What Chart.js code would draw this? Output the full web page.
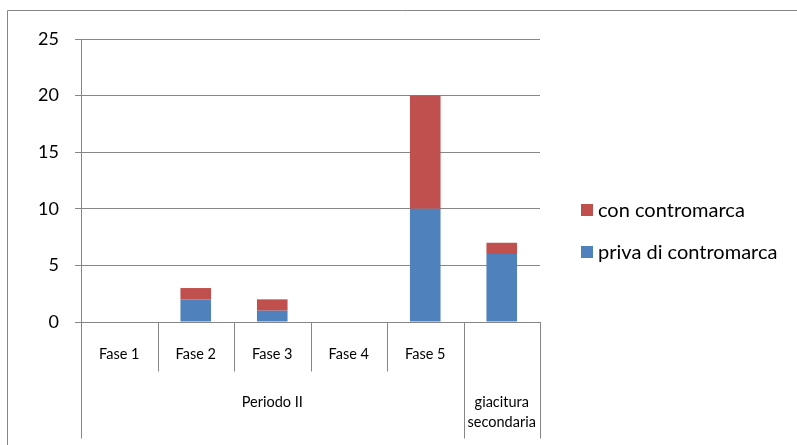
<!DOCTYPE html>
<html>
<head>
<meta charset="utf-8">
<script src="https://cdn.jsdelivr.net/npm/chart.js@4.4.1/dist/chart.umd.min.js"></script>
<style>
  html, body { margin: 0; padding: 0; background: #fff; }
  #wrap { width: 797px; height: 445px; }
</style>
</head>
<body>
<div id="wrap"><canvas id="chart" width="797" height="445"></canvas></div>
<script>
// Categories: phases (first label row) and the period each belongs to (second row)
const phaseLabels  = ['Fase 1', 'Fase 2', 'Fase 3', 'Fase 4', 'Fase 5', ''];
const periodLabels = ['Periodo II', 'Periodo II', 'Periodo II', 'Periodo II', 'Periodo II', 'giacitura secondaria'];

// Series values
const privaValues = [0, 2, 1, 0, 10, 6];
const conValues   = [0, 1, 1, 0, 10, 1];

// Value axis ticks
const yTicks = [0, 5, 10, 15, 20, 25];

const FONT = 'Lato, "Open Sans", sans-serif';
const LINE = '#868686';

// Frame, two-level category axis and legend
const decorations = {
  id: 'decorations',
  beforeDraw(chart) {
    const ctx = chart.ctx;
    ctx.save();
    ctx.strokeStyle = LINE;
    ctx.lineWidth = 1;
    ctx.beginPath();
    ctx.moveTo(7.5, 445);
    ctx.lineTo(7.5, 10.5);
    ctx.lineTo(797, 10.5);
    ctx.stroke();
    ctx.restore();
  },
  afterDraw(chart) {
    const ctx = chart.ctx;
    const xs = chart.scales.x;
    const n = phaseLabels.length;
    const step = (xs.right - xs.left) / n;
    const base = Math.round(xs.top) + 0.5;
    const row1 = base + 49;
    const row2 = base + 116;

    ctx.save();
    ctx.strokeStyle = LINE;
    ctx.lineWidth = 1;
    // separators between categories; period boundaries run through both rows
    for (let i = 0; i <= n; i++) {
      const x = Math.round(xs.left + i * step) + 0.5;
      const groupEdge = i === 0 || i === n || periodLabels[i] !== periodLabels[i - 1];
      ctx.beginPath();
      ctx.moveTo(x, base);
      ctx.lineTo(x, groupEdge ? row2 : row1);
      ctx.stroke();
    }

    ctx.fillStyle = '#000';
    ctx.textAlign = 'center';
    ctx.textBaseline = 'middle';
    ctx.font = '14.5px ' + FONT;
    phaseLabels.forEach((lab, i) => {
      if (lab) ctx.fillText(lab, xs.getPixelForValue(i), base + 32);
    });

    // period labels, centred over their span
    let start = 0;
    for (let i = 1; i <= n; i++) {
      if (i === n || periodLabels[i] !== periodLabels[start]) {
        const cx = (xs.left + start * step + xs.left + i * step) / 2;
        const words = periodLabels[start];
        const width = (i - start) * step;
        let lines = [words];
        if (ctx.measureText(words).width > width - 4) lines = words.split(' ');
        lines.forEach((l, k) => ctx.fillText(l, cx, base + 80 + k * 20));
        start = i;
      }
    }

    // legend
    const items = chart.data.datasets.slice().reverse();
    ctx.textAlign = 'left';
    ctx.font = '20px ' + FONT;
    items.forEach((ds, k) => {
      const cy = 210 + k * 42;
      ctx.fillStyle = ds.backgroundColor;
      ctx.fillRect(581, cy - 6, 12, 12);
      ctx.fillStyle = '#000';
      ctx.fillText(ds.label, 598, cy + 1);
    });
    ctx.restore();
  }
};

function draw() {
  new Chart(document.getElementById('chart'), {
    type: 'bar',
    data: {
      labels: phaseLabels,
      datasets: [
        { label: 'priva di contromarca', data: privaValues, backgroundColor: '#4F81BD' },
        { label: 'con contromarca', data: conValues, backgroundColor: '#C0504D' }
      ]
    },
    options: {
      responsive: false,
      animation: false,
      devicePixelRatio: 1,
      layout: { padding: { top: 39, right: 257, bottom: 0, left: 0 } },
      datasets: { bar: { categoryPercentage: 1, barPercentage: 0.4 } },
      plugins: { legend: { display: false }, tooltip: { enabled: false } },
      scales: {
        x: {
          stacked: true,
          offset: true,
          grid: { display: false },
          ticks: { display: false },
          border: { display: true, color: LINE, width: 1 },
          afterFit(s) { s.height = 123; }
        },
        y: {
          stacked: true,
          min: 0,
          max: 25,
          afterBuildTicks(s) { s.ticks = yTicks.map(v => ({ value: v })); },
          ticks: { color: '#000', font: { family: FONT, size: 18 }, padding: 16 },
          grid: { color: LINE, lineWidth: 1, tickLength: 6 },
          border: { display: true, color: LINE, width: 1 },
          afterFit(s) { s.width = 81; }
        }
      }
    },
    plugins: [decorations]
  });
}

if (document.fonts && document.fonts.load) {
  document.fonts.load('18px Lato').then(draw, draw);
} else {
  draw();
}
</script>
</body>
</html>
